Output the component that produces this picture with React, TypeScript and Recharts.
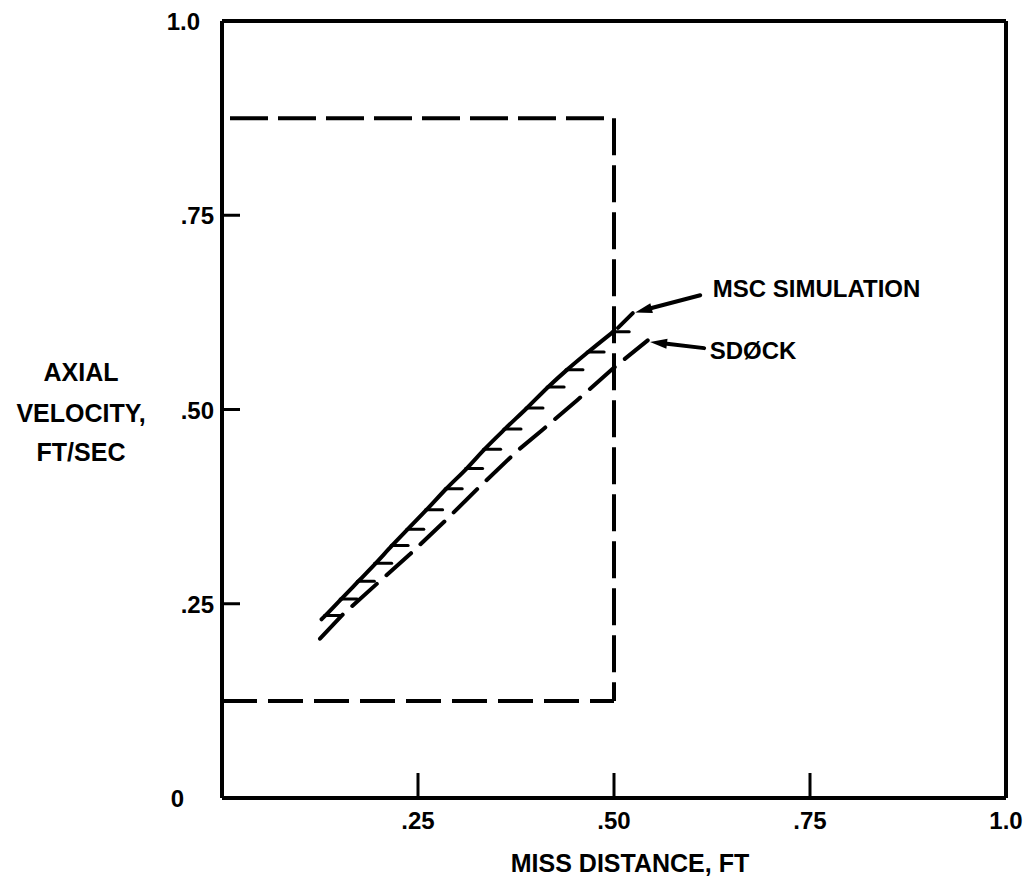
import React from "react"
import {
  ComposedChart,
  Line,
  XAxis,
  YAxis,
  ReferenceLine,
  ReferenceDot,
} from "recharts"

// MSC simulation curve (solid, hatched on its lower side)
const mscX = [0.127, 0.132, 0.152, 0.174, 0.196, 0.217, 0.237, 0.261, 0.286, 0.312, 0.335, 0.361, 0.389, 0.416, 0.44, 0.467, 0.499]
const mscY = [0.23, 0.235, 0.256, 0.279, 0.302, 0.325, 0.346, 0.371, 0.398, 0.424, 0.449, 0.475, 0.502, 0.529, 0.551, 0.574, 0.6]
const mscTailX = [0.505, 0.524]
const mscTailY = [0.605, 0.624]

// SDØCK curve (dashed)
const sdockX = [0.125, 0.154, 0.199, 0.24, 0.287, 0.327, 0.378, 0.409, 0.453, 0.499, 0.543]
const sdockY = [0.205, 0.236, 0.277, 0.314, 0.359, 0.399, 0.448, 0.474, 0.512, 0.553, 0.589]

// dashed limit box
const boxX = [0.0102, 0.5]
const boxY = [0.125, 0.875]

const xTicks = [0.25, 0.5, 0.75, 1.0]
const xTickLabels = [".25", ".50", ".75", "1.0"]
const yTicks = [0, 0.25, 0.5, 0.75, 1.0]
const yTickLabels = ["0", ".25", ".50", ".75", "1.0"]

const noteLabels = ["MSC SIMULATION", "SDØCK"]
const noteX = [0.626, 0.622]
const noteY = [0.656, 0.577]
const arrowStartX = [0.61, 0.615]
const arrowStartY = [0.647, 0.579]
const arrowEndX = [0.527, 0.546]
const arrowEndY = [0.625, 0.587]

const yTitle = ["AXIAL", "VELOCITY,", "FT/SEC"]
const xTitle = "MISS DISTANCE, FT"

const mscData = mscX.map((x, i) => ({ x, y: mscY[i] }))
const mscTail = mscTailX.map((x, i) => ({ x, y: mscTailY[i] }))
const sdockData = sdockX.map((x, i) => ({ x, y: sdockY[i] }))

const FONT = "'Liberation Sans', Arial, Helvetica, sans-serif"
const INK = "#000"

function XTick(props: any) {
  const { x, y, payload } = props
  const i = xTicks.indexOf(payload.value)
  const inner = payload.value > 0 && payload.value < 1
  return (
    <g>
      {inner && <line x1={x} y1={y} x2={x} y2={y - 25} stroke={INK} strokeWidth={3} />}
      <text x={x} y={y + 31} textAnchor="middle" fontFamily={FONT} fontWeight="bold" fontSize={24} fill={INK}>
        {xTickLabels[i]}
      </text>
    </g>
  )
}

function YTick(props: any) {
  const { x, y, payload } = props
  const i = yTicks.indexOf(payload.value)
  const label = yTickLabels[i]
  const inner = payload.value > 0 && payload.value < 1
  const gap = label === "0" ? 38 : label === "1.0" ? 22 : 8
  return (
    <g>
      {inner && <line x1={x} y1={y} x2={x + 18} y2={y} stroke={INK} strokeWidth={3} />}
      <text x={x - gap} y={y + 9} textAnchor="end" fontFamily={FONT} fontWeight="bold" fontSize={24} fill={INK}>
        {label}
      </text>
    </g>
  )
}

function HatchDot(props: any) {
  const { cx, cy, index } = props
  if (index === 0 || cx == null) return <g key={`h-${index}`} />
  return <line key={`h-${index}`} x1={cx - 1} y1={cy} x2={cx + 16} y2={cy} stroke={INK} strokeWidth={3} strokeLinecap="round" />
}

function Arrow(props: any) {
  const { x1, y1, x2, y2 } = props
  const dx = x2 - x1
  const dy = y2 - y1
  const len = Math.sqrt(dx * dx + dy * dy)
  const ux = dx / len
  const uy = dy / len
  const head = 17
  const half = 5
  const bx = x2 - ux * head
  const by = y2 - uy * head
  return (
    <g>
      <line x1={x1} y1={y1} x2={bx} y2={by} stroke={INK} strokeWidth={4} strokeLinecap="round" />
      <polygon
        points={`${x2},${y2} ${bx - uy * half},${by + ux * half} ${bx + uy * half},${by - ux * half}`}
        fill={INK}
      />
    </g>
  )
}

function XTitle(props: any) {
  const vb = props.viewBox || { x: 222, y: 798, width: 784, height: 80 }
  return (
    <text x={vb.x + vb.width / 2 + 16} y={vb.y + 74} textAnchor="middle" fontFamily={FONT} fontWeight="bold" fontSize={25} fill={INK}>
      {xTitle}
    </text>
  )
}

function YTitle(props: any) {
  const vb = props.viewBox || { x: 0, y: 21, width: 222, height: 777 }
  const cy = vb.y + vb.height / 2
  const offsets = [-38, 3, 42]
  return (
    <g>
      {yTitle.map((t, i) => (
        <text key={t} x={vb.x + 81} y={cy + offsets[i] + 9} textAnchor="middle" fontFamily={FONT} fontWeight="bold" fontSize={25} fill={INK}>
          {t}
        </text>
      ))}
    </g>
  )
}

export default function App() {
  return (
    <div style={{ position: "absolute", left: 0, top: 0, width: 1025, height: 878, background: "#fff" }}>
      <ComposedChart width={1025} height={878} margin={{ top: 21, right: 19, bottom: 0, left: 0 }}>
        <XAxis
          type="number"
          dataKey="x"
          domain={[0, 1]}
          allowDataOverflow
          ticks={xTicks}
          interval={0}
          tickSize={0}
          tickMargin={0}
          tickLine={false}
          tick={<XTick />}
          axisLine={{ stroke: INK, strokeWidth: 4 }}
          height={80}
          label={<XTitle />}
        />
        <YAxis
          type="number"
          dataKey="y"
          domain={[0, 1]}
          allowDataOverflow
          ticks={yTicks}
          interval={0}
          tickSize={0}
          tickMargin={0}
          tickLine={false}
          tick={<YTick />}
          axisLine={{ stroke: INK, strokeWidth: 4 }}
          width={222}
          label={<YTitle />}
        />
        <ReferenceLine y={1} stroke={INK} strokeWidth={4} />
        <ReferenceLine x={1} stroke={INK} strokeWidth={4} />

        <ReferenceLine
          segment={[{ x: boxX[0], y: boxY[1] }, { x: boxX[1], y: boxY[1] }]}
          stroke={INK}
          strokeWidth={4}
          strokeDasharray="38 10"
        />
        <ReferenceLine
          segment={[{ x: 0, y: boxY[0] }, { x: boxX[1], y: boxY[0] }]}
          stroke={INK}
          strokeWidth={4}
          strokeDasharray="35 11"
        />
        <ReferenceLine
          segment={[{ x: boxX[1], y: boxY[1] }, { x: boxX[1], y: boxY[0] }]}
          stroke={INK}
          strokeWidth={4}
          strokeDasharray="37 10"
        />

        <Line
          data={sdockData}
          dataKey="y"
          type="linear"
          stroke={INK}
          strokeWidth={4}
          strokeDasharray="33 13"
          strokeLinecap="round"
          dot={false}
          activeDot={false}
          isAnimationActive={false}
        />
        <Line
          data={mscData}
          dataKey="y"
          type="monotone"
          stroke={INK}
          strokeWidth={4}
          strokeLinecap="round"
          dot={<HatchDot />}
          activeDot={false}
          isAnimationActive={false}
        />
        <Line
          data={mscTail}
          dataKey="y"
          type="linear"
          stroke={INK}
          strokeWidth={4}
          strokeLinecap="round"
          dot={false}
          activeDot={false}
          isAnimationActive={false}
        />

        {noteLabels.map((_, i) => (
          <ReferenceLine
            key={`arrow-${i}`}
            segment={[{ x: arrowStartX[i], y: arrowStartY[i] }, { x: arrowEndX[i], y: arrowEndY[i] }]}
            shape={<Arrow />}
          />
        ))}
        {noteLabels.map((t, i) => (
          <ReferenceDot
            key={`note-${i}`}
            x={noteX[i]}
            y={noteY[i]}
            r={0}
            shape={(p: any) => (
              <text x={p.cx} y={p.cy + 9} textAnchor="start" fontFamily={FONT} fontWeight="bold" fontSize={24} fill={INK}>
                {t}
              </text>
            )}
          />
        ))}
      </ComposedChart>
    </div>
  )
}
